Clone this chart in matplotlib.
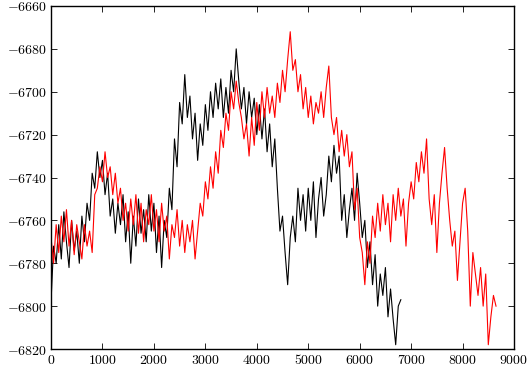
import numpy as np
import matplotlib
matplotlib.use("Agg")
import matplotlib.pyplot as plt
from matplotlib import ticker

plt.rcParams['mathtext.fontset'] = 'cm'

# sampling step of both traces (iterations)
step = 50

black = [-6798, -6772, -6780, -6762, -6778, -6756, -6770, -6782, -6760, -6774,
         -6765, -6780, -6758, -6770, -6752, -6760, -6738, -6745, -6728, -6740,
         -6732, -6748, -6738, -6758, -6750, -6766, -6752, -6762, -6748, -6770,
         -6756, -6780, -6758, -6772, -6750, -6766, -6755, -6770, -6748, -6765,
         -6752, -6775, -6758, -6782, -6760, -6768, -6745, -6755, -6722, -6735,
         -6705, -6715, -6692, -6712, -6702, -6722, -6710, -6732, -6715, -6725,
         -6706, -6718, -6700, -6712, -6696, -6708, -6694, -6712, -6698, -6710,
         -6690, -6700, -6680, -6695, -6708, -6698, -6715, -6700, -6712, -6703,
         -6720, -6706, -6722, -6708, -6728, -6715, -6735, -6722, -6745, -6765,
         -6758, -6775, -6790, -6768, -6758, -6770, -6745, -6760, -6748, -6765,
         -6745, -6760, -6742, -6768, -6750, -6740, -6758, -6748, -6730, -6742,
         -6725, -6738, -6730, -6760, -6748, -6768, -6755, -6745, -6760, -6738,
         -6752, -6768, -6760, -6782, -6770, -6790, -6776, -6800, -6785, -6795,
         -6782, -6805, -6792, -6806, -6818, -6800, -6797]

red = [-6768, -6780, -6762, -6775, -6758, -6770, -6755, -6772, -6760, -6776,
       -6762, -6770, -6778, -6762, -6772, -6765, -6775, -6748, -6745, -6735,
       -6742, -6728, -6740, -6735, -6748, -6738, -6752, -6745, -6760, -6752,
       -6765, -6750, -6762, -6748, -6766, -6752, -6770, -6755, -6762, -6748,
       -6765, -6755, -6770, -6752, -6765, -6758, -6778, -6762, -6768, -6755,
       -6772, -6760, -6775, -6762, -6770, -6760, -6778, -6765, -6752, -6758,
       -6742, -6750, -6735, -6745, -6728, -6738, -6718, -6726, -6710, -6718,
       -6700, -6708, -6695, -6705, -6712, -6722, -6715, -6730, -6712, -6725,
       -6705, -6718, -6700, -6712, -6698, -6710, -6702, -6712, -6696, -6705,
       -6690, -6700, -6685, -6672, -6690, -6685, -6700, -6692, -6708, -6698,
       -6712, -6702, -6715, -6705, -6710, -6700, -6712, -6698, -6688, -6712,
       -6720, -6712, -6728, -6718, -6730, -6720, -6735, -6728, -6755, -6745,
       -6768, -6775, -6790, -6770, -6780, -6758, -6768, -6752, -6765, -6748,
       -6762, -6752, -6770, -6748, -6760, -6745, -6758, -6750, -6772, -6752,
       -6742, -6750, -6733, -6742, -6728, -6738, -6722, -6750, -6762, -6748,
       -6775, -6752, -6738, -6726, -6745, -6760, -6772, -6765, -6788, -6770,
       -6752, -6745, -6765, -6800, -6775, -6785, -6795, -6782, -6800, -6785,
       -6818, -6805, -6795, -6800]

xb = np.arange(len(black)) * step
xr = np.arange(len(red)) * step

fig = plt.figure(figsize=(5.32, 3.68), dpi=100)
ax = fig.add_axes([0.0959, 0.0516, 0.8703, 0.9321])

ax.plot(xb, black, color='black', lw=0.8)
ax.plot(xr, red, color='red', lw=0.8)

ax.set_xlim(0, 9000)
ax.set_ylim(-6820, -6660)
ax.xaxis.set_major_locator(ticker.MultipleLocator(1000))
ax.yaxis.set_major_locator(ticker.MultipleLocator(20))
fmt = ticker.FuncFormatter(lambda v, p: r'$%d$' % v)
ax.xaxis.set_major_formatter(fmt)
ax.yaxis.set_major_formatter(fmt)
ax.tick_params(direction='in', top=True, right=True, length=4, width=0.6,
               labelsize=10, pad=3)
for s in ax.spines.values():
    s.set_linewidth(1.0)

fig.savefig('out.png', dpi=100)
